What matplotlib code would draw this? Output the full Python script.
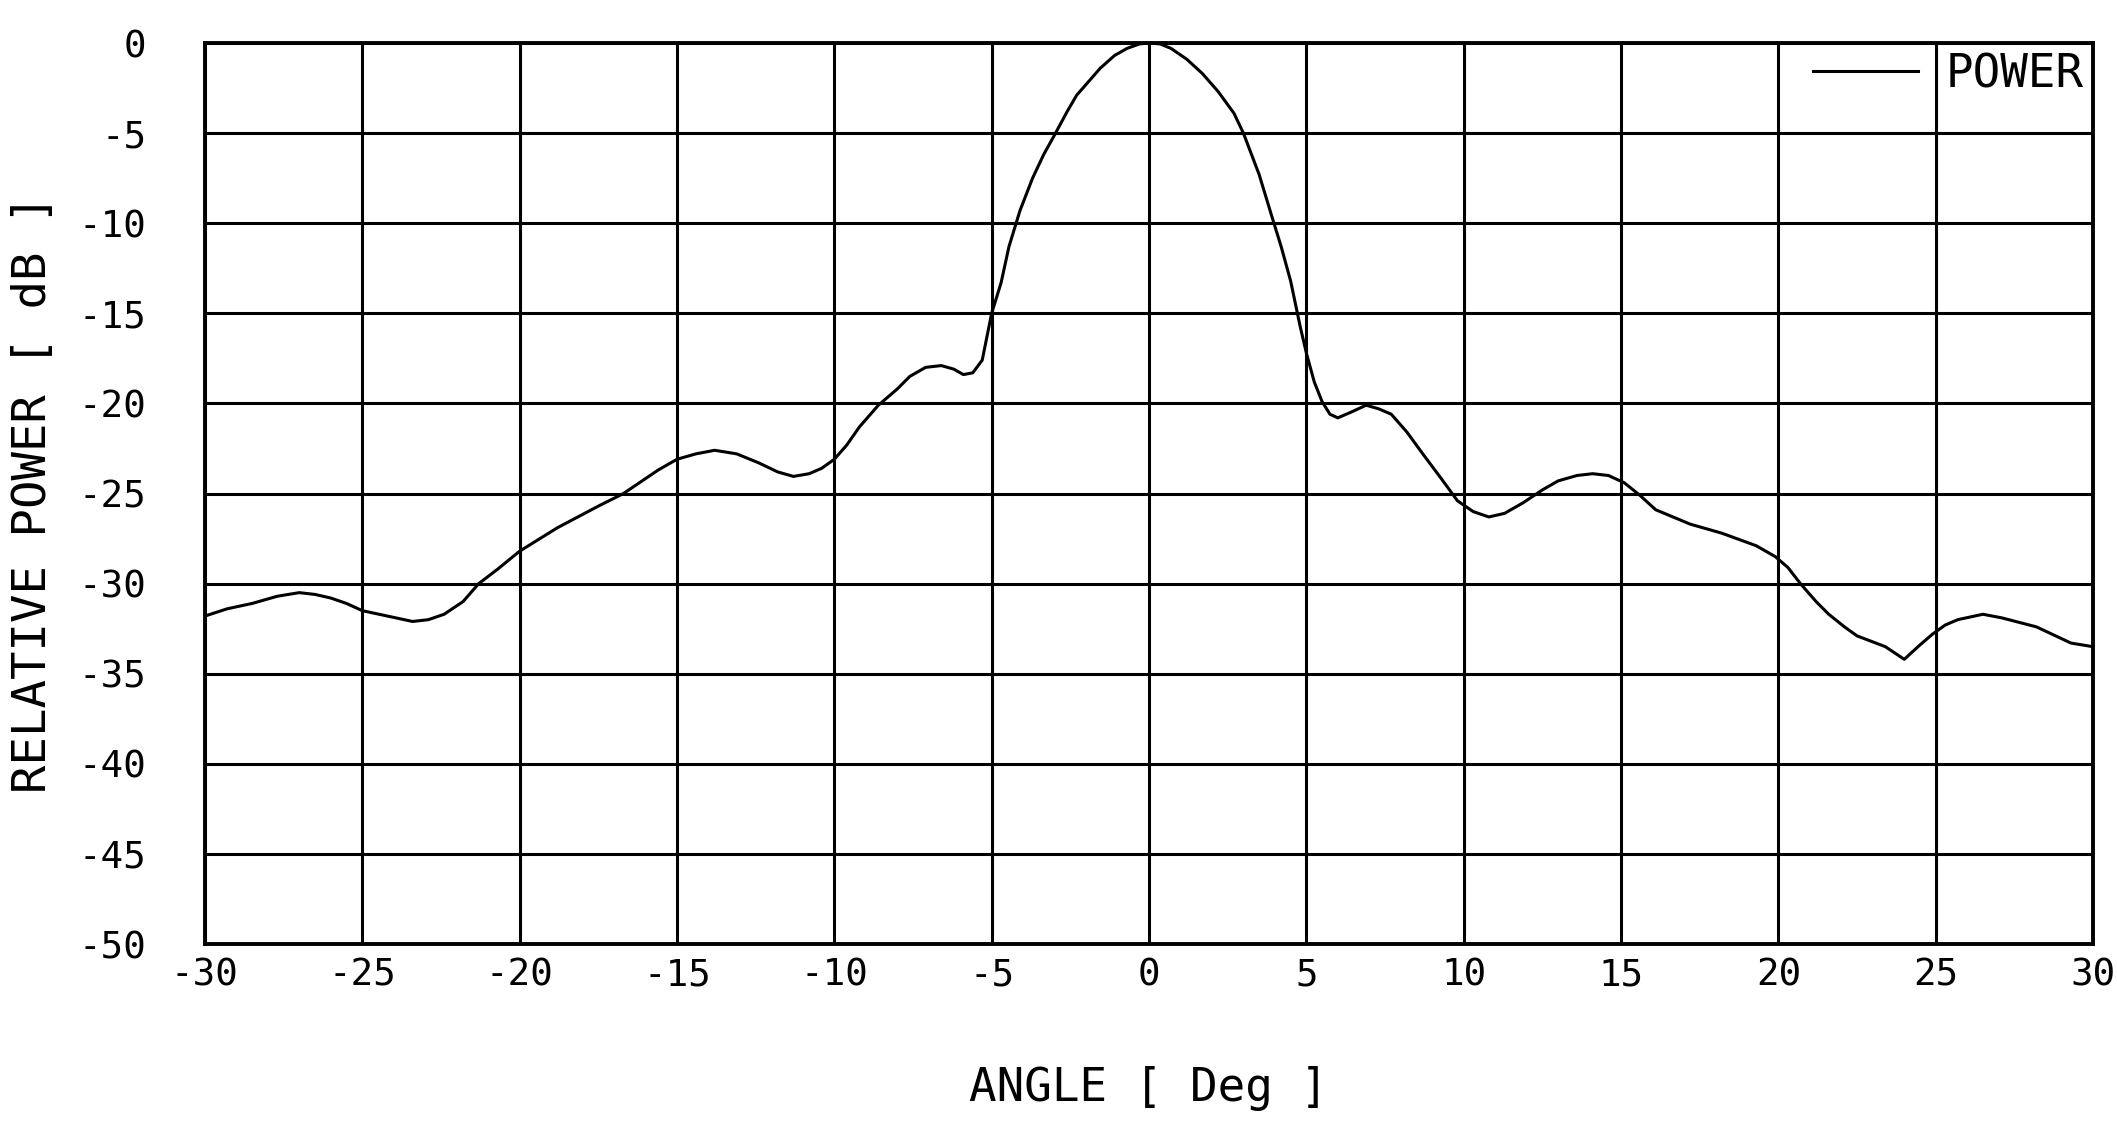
import matplotlib
matplotlib.use('Agg')
from matplotlib import pyplot as plt

angle = [-30, -29.3, -28.5, -27.7, -27, -26.5, -26, -25.5, -25, -24.2, -23.4, -22.9, -22.4,
         -21.8, -21.3, -20.7, -20, -18.8, -17.5, -16.7, -15.6, -15, -14.4, -13.8, -13.1,
         -12.4, -11.8, -11.3, -10.8, -10.4, -10, -9.6, -9.2, -8.6, -8.0, -7.6, -7.1, -6.6,
         -6.2, -5.9, -5.6, -5.3, -5, -4.7, -4.45, -4.1, -3.7, -3.35, -3.0, -2.6, -2.3,
         -1.9, -1.55, -1.1, -0.7, -0.3, 0, 0.35, 0.7, 1.2, 1.7, 2.2, 2.7, 3.0, 3.5, 3.9,
         4.2, 4.5, 4.8, 5.0, 5.25, 5.5, 5.75, 6.0, 6.4, 6.9, 7.3, 7.7, 8.2, 8.7, 9.3, 9.8,
         10.3, 10.8, 11.3, 11.9, 12.5, 13.0, 13.6, 14.1, 14.6, 15.1, 15.6, 16.1, 17.2,
         18.2, 19.3, 19.9, 20.3, 20.7, 21.2, 21.6, 22.1, 22.5, 23.4, 24.0, 24.5, 24.9,
         25.3, 25.7, 26.5, 27.1, 28.2, 29.3, 30]
power = [-31.8, -31.4, -31.1, -30.7, -30.5, -30.6, -30.8, -31.1, -31.5, -31.8, -32.1, -32.0, -31.7,
         -31.0, -30.0, -29.2, -28.2, -26.9, -25.7, -25.0, -23.7, -23.1, -22.8, -22.6, -22.8,
         -23.3, -23.8, -24.05, -23.9, -23.6, -23.1, -22.3, -21.3, -20.1, -19.2, -18.5, -18.0, -17.9,
         -18.1, -18.4, -18.3, -17.6, -15.0, -13.3, -11.3, -9.3, -7.5, -6.2, -5.1, -3.8, -2.9,
         -2.1, -1.4, -0.7, -0.3, -0.05, 0, -0.05, -0.3, -0.9, -1.7, -2.7, -3.9, -5.0, -7.3, -9.6,
         -11.3, -13.2, -15.7, -17.2, -18.8, -19.9, -20.6, -20.8, -20.5, -20.1, -20.3, -20.6, -21.6, -22.8, -24.2, -25.4,
         -26.0, -26.3, -26.1, -25.5, -24.8, -24.3, -24.0, -23.9, -24.0, -24.4, -25.1, -25.9, -26.7,
         -27.2, -27.9, -28.5, -29.1, -30.0, -31.0, -31.7, -32.4, -32.9, -33.5, -34.2, -33.4, -32.8,
         -32.3, -32.0, -31.7, -31.9, -32.4, -33.3, -33.5]

x_ticks = [-30, -25, -20, -15, -10, -5, 0, 5, 10, 15, 20, 25, 30]
y_ticks = [0, -5, -10, -15, -20, -25, -30, -35, -40, -45, -50]

mono = 'DejaVu Sans Mono'

fig = plt.figure(figsize=(21.17, 11.26), dpi=100)
ax = fig.add_axes([0.0968, 0.1616, 0.8919, 0.8002])

ax.plot(angle, power, color='black', linewidth=2.2, label='POWER')

ax.set_xlim(-30, 30)
ax.set_ylim(-50, 0)
ax.set_xticks(x_ticks)
ax.set_yticks(y_ticks)
ax.set_xticklabels([str(t) for t in x_ticks], family=mono, fontsize=27)
ax.set_yticklabels([str(t) for t in y_ticks], family=mono, fontsize=27)
ax.tick_params(length=0)
ax.tick_params(axis='x', pad=10)
ax.tick_params(axis='y', pad=42)

ax.grid(True, color='black', linewidth=2.2)
for s in ax.spines.values():
    s.set_linewidth(2.8)
    s.set_color('black')

ax.set_xlabel('ANGLE [ Deg ]', family=mono, fontsize=33, labelpad=52)
ax.set_ylabel('RELATIVE POWER [ dB ]', family=mono, fontsize=34, labelpad=16)

leg = ax.legend(loc='upper right', frameon=False, handlelength=2.3, handletextpad=0.6,
                borderaxespad=0.15, borderpad=0.05, prop={'family': mono, 'size': 33})

plt.savefig('out.png', dpi=100)
